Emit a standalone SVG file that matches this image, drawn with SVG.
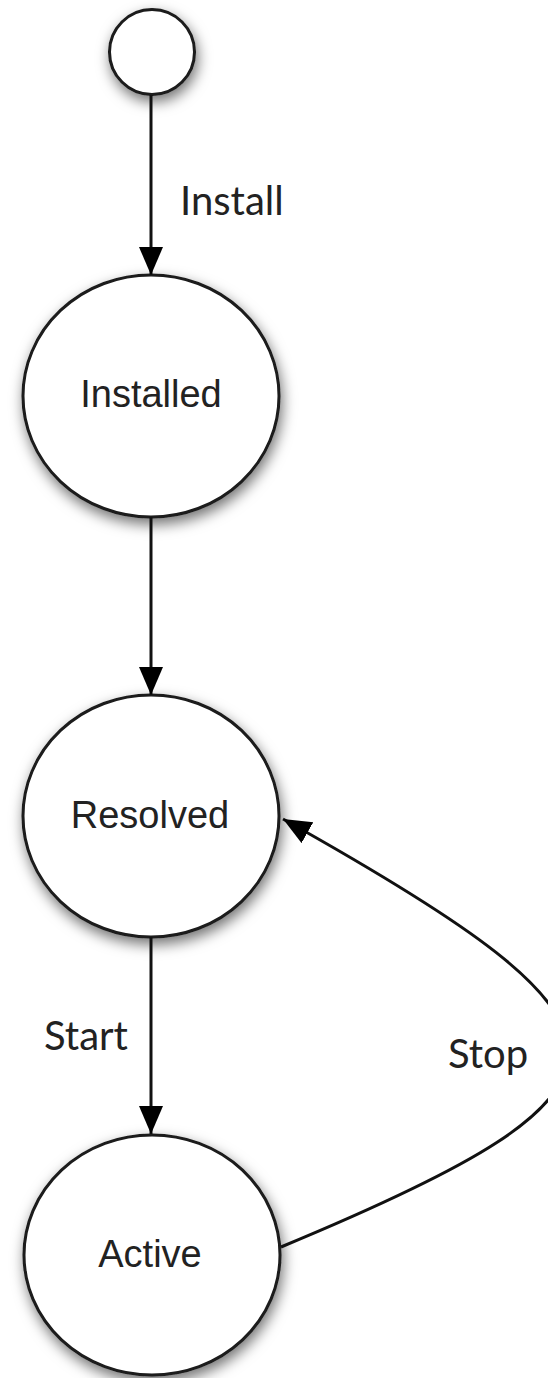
<svg xmlns="http://www.w3.org/2000/svg" width="548" height="1378" viewBox="0 0 548 1378">
<style>
.node{fill:#fff;stroke:#1a1a1a;stroke-width:3;filter:url(#sh)}
.lbl{font-family:"Liberation Sans",Arial,sans-serif;font-size:38px;fill:#222;text-anchor:middle}
.elbl{font-family:Lato,"Open Sans",sans-serif;font-size:40px;fill:#222}
.edge{fill:none;stroke:#111;stroke-width:3;marker-end:url(#ah)}
</style>
<defs>
<filter id="sh" x="-30%" y="-30%" width="160%" height="160%">
<feDropShadow dx="2" dy="6" stdDeviation="7" flood-color="#000" flood-opacity="0.55"/>
</filter>
<marker id="ah" markerUnits="userSpaceOnUse" markerWidth="30" markerHeight="26" refX="28" refY="12" orient="auto">
<path d="M0,0 L28,12 L0,24 Z" fill="#000"/>
</marker>
</defs>
<rect width="548" height="1378" fill="#fff"/>
<g id="start"><circle class="node" cx="152" cy="52" r="42.5"/></g>
<g id="installed"><ellipse class="node" cx="151" cy="396" rx="128" ry="121"/><text class="lbl" x="151" y="407">Installed</text></g>
<g id="resolved"><ellipse class="node" cx="151" cy="816" rx="128" ry="121"/><text class="lbl" x="150" y="828">Resolved</text></g>
<g id="active"><ellipse class="node" cx="152" cy="1255" rx="128" ry="120"/><text class="lbl" x="150" y="1267">Active</text></g>
<g id="connectors">
<path class="edge" d="M151,95 L151,275"/>
<path class="edge" d="M151,517 L151,695"/>
<path class="edge" d="M151,937 L151,1134"/>
<path class="edge" d="M281,1247 C667,1087 660,1030 283,819"/>
<text class="elbl" x="180" y="215">Install</text>
<text class="elbl" x="44" y="1050">Start</text>
<text class="elbl" x="448" y="1068">Stop</text>
</g>
</svg>
